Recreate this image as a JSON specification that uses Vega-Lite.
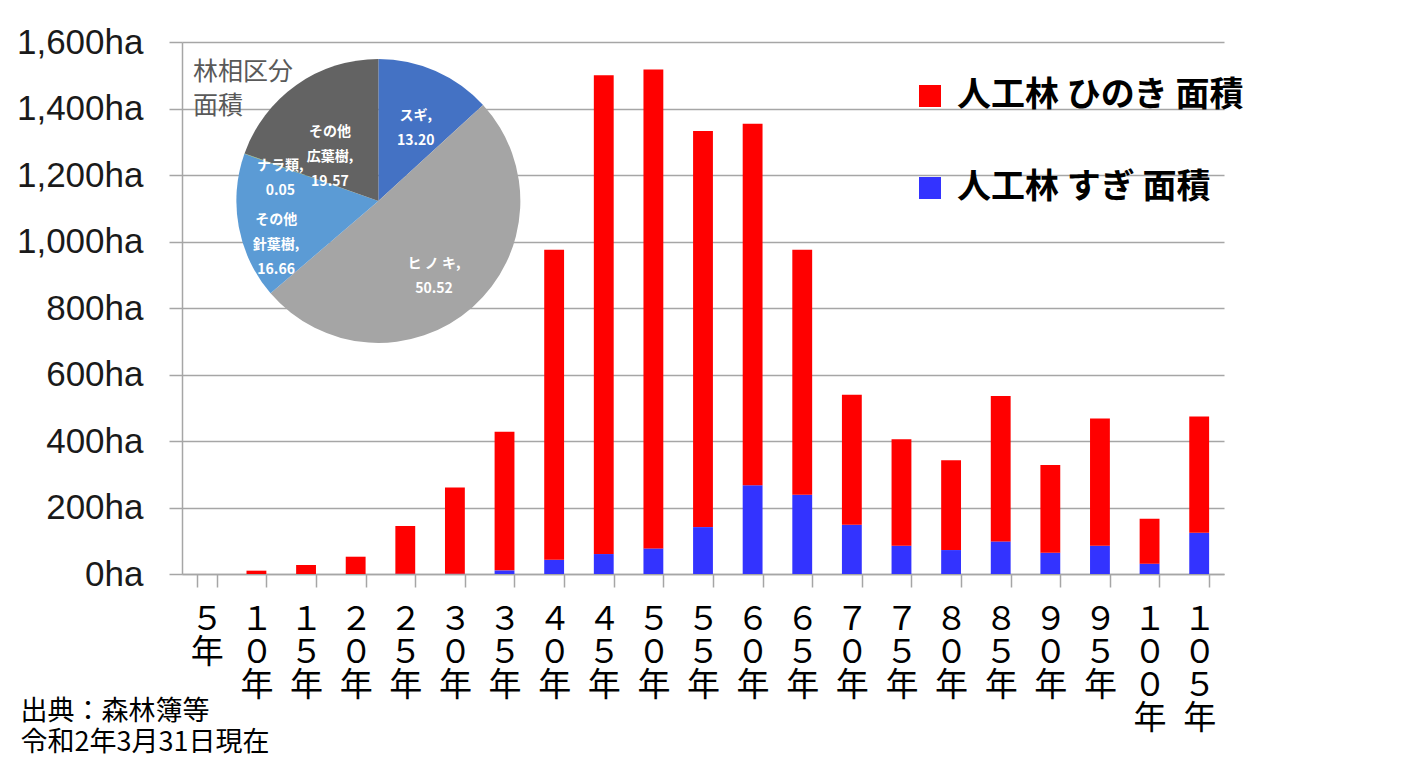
{
  "$schema": "https://vega.github.io/schema/vega-lite/v6.json",
  "width": 1042,
  "height": 532,
  "autosize": {"type": "none"},
  "padding": {"left": 182, "top": 42, "right": 181, "bottom": 195},
  "background": "white",
  "title": {
    "text": ["林相区分", "面積"],
    "orient": "top",
    "anchor": "start",
    "frame": "group",
    "baseline": "top",
    "offset": 0,
    "dx": 11,
    "dy": 94,
    "font": "Noto Sans CJK JP",
    "fontSize": 25,
    "fontWeight": "normal",
    "lineHeight": 34,
    "color": "#595959"
  },
  "datasets": {
    "bars": [
      {"age": "５年", "series": "人工林 すぎ 面積", "area": 0},
      {"age": "５年", "series": "人工林 ひのき 面積", "area": 0},
      {"age": "１０年", "series": "人工林 すぎ 面積", "area": 0},
      {"age": "１０年", "series": "人工林 ひのき 面積", "area": 10},
      {"age": "１５年", "series": "人工林 すぎ 面積", "area": 0},
      {"age": "１５年", "series": "人工林 ひのき 面積", "area": 27},
      {"age": "２０年", "series": "人工林 すぎ 面積", "area": 0},
      {"age": "２０年", "series": "人工林 ひのき 面積", "area": 52},
      {"age": "２５年", "series": "人工林 すぎ 面積", "area": 1},
      {"age": "２５年", "series": "人工林 ひのき 面積", "area": 143},
      {"age": "３０年", "series": "人工林 すぎ 面積", "area": 1},
      {"age": "３０年", "series": "人工林 ひのき 面積", "area": 259},
      {"age": "３５年", "series": "人工林 すぎ 面積", "area": 11},
      {"age": "３５年", "series": "人工林 ひのき 面積", "area": 417},
      {"age": "４０年", "series": "人工林 すぎ 面積", "area": 43},
      {"age": "４０年", "series": "人工林 ひのき 面積", "area": 932},
      {"age": "４５年", "series": "人工林 すぎ 面積", "area": 60},
      {"age": "４５年", "series": "人工林 ひのき 面積", "area": 1440},
      {"age": "５０年", "series": "人工林 すぎ 面積", "area": 77},
      {"age": "５０年", "series": "人工林 ひのき 面積", "area": 1440},
      {"age": "５５年", "series": "人工林 すぎ 面積", "area": 141},
      {"age": "５５年", "series": "人工林 ひのき 面積", "area": 1191},
      {"age": "６０年", "series": "人工林 すぎ 面積", "area": 267},
      {"age": "６０年", "series": "人工林 ひのき 面積", "area": 1087},
      {"age": "６５年", "series": "人工林 すぎ 面積", "area": 238},
      {"age": "６５年", "series": "人工林 ひのき 面積", "area": 737},
      {"age": "７０年", "series": "人工林 すぎ 面積", "area": 148},
      {"age": "７０年", "series": "人工林 ひのき 面積", "area": 391},
      {"age": "７５年", "series": "人工林 すぎ 面積", "area": 85},
      {"age": "７５年", "series": "人工林 ひのき 面積", "area": 320},
      {"age": "８０年", "series": "人工林 すぎ 面積", "area": 72},
      {"age": "８０年", "series": "人工林 ひのき 面積", "area": 270},
      {"age": "８５年", "series": "人工林 すぎ 面積", "area": 98},
      {"age": "８５年", "series": "人工林 ひのき 面積", "area": 437},
      {"age": "９０年", "series": "人工林 すぎ 面積", "area": 64},
      {"age": "９０年", "series": "人工林 ひのき 面積", "area": 264},
      {"age": "９５年", "series": "人工林 すぎ 面積", "area": 85},
      {"age": "９５年", "series": "人工林 ひのき 面積", "area": 383},
      {"age": "１００年", "series": "人工林 すぎ 面積", "area": 31},
      {"age": "１００年", "series": "人工林 ひのき 面積", "area": 135},
      {"age": "１０５年", "series": "人工林 すぎ 面積", "area": 124},
      {"age": "１０５年", "series": "人工林 ひのき 面積", "area": 350}
    ],
    "pie": [
      {"n": 1, "species": "スギ", "share": 13.20, "label": "スギ,\n13.20"},
      {"n": 2, "species": "ヒノキ", "share": 50.52, "label": "ヒ ノ キ,\n50.52"},
      {"n": 3, "species": "その他針葉樹", "share": 16.66, "label": "その他\n針葉樹,\n16.66"},
      {"n": 4, "species": "ナラ類", "share": 0.05, "label": "ナラ類,\n0.05"},
      {"n": 5, "species": "その他広葉樹", "share": 19.57, "label": "その他\n広葉樹,\n19.57"}
    ]
  },
  "layer": [
    {
      "data": {"name": "bars"},
      "mark": {"type": "bar"},
      "encoding": {
        "x": {
          "field": "age",
          "type": "nominal",
          "scale": {
            "domain": ["５年", "１０年", "１５年", "２０年", "２５年", "３０年", "３５年", "４０年", "４５年", "５０年", "５５年", "６０年", "６５年", "７０年", "７５年", "８０年", "８５年", "９０年", "９５年", "１００年", "１０５年"],
            "paddingInner": 0.6,
            "paddingOuter": 0.3
          },
          "axis": {
            "labelExpr": "split(datum.label, '')",
            "labelAngle": 0,
            "labelFont": "Noto Sans CJK JP",
            "labelFontSize": 33,
            "labelLineHeight": 33,
            "labelBaseline": "top",
            "labelAlign": "center",
            "labelPadding": 16,
            "labelColor": "#000000",
            "labelOverlap": false,
            "tickBand": "extent",
            "tickSize": 13,
            "grid": false,
            "title": ["出典：森林簿等", "令和2年3月31日現在"],
            "titleX": -162,
            "titleY": 124,
            "titleAlign": "left",
            "titleBaseline": "top",
            "titleAngle": 0,
            "titleFont": "Noto Sans CJK JP",
            "titleFontSize": 27,
            "titleFontWeight": "normal",
            "titleLineHeight": 31,
            "titleColor": "#000000"
          }
        },
        "y": {
          "field": "area",
          "type": "quantitative",
          "stack": "zero",
          "scale": {"domain": [0, 1600], "nice": false},
          "axis": {
            "values": [0, 200, 400, 600, 800, 1000, 1200, 1400, 1600],
            "labelExpr": "format(datum.value, ',') + 'ha'",
            "labelFont": "Liberation Sans",
            "labelFontSize": 35,
            "labelColor": "#1a1a1a",
            "labelPadding": 26,
            "tickSize": 13,
            "grid": true,
            "title": null
          }
        },
        "color": {
          "field": "series",
          "type": "nominal",
          "scale": {"domain": ["人工林 ひのき 面積", "人工林 すぎ 面積"], "range": ["#FF0000", "#3333FF"]},
          "legend": {
            "orient": "none",
            "legendX": 731,
            "legendY": 37,
            "title": null,
            "direction": "vertical",
            "symbolType": "square",
            "symbolSize": 484,
            "symbolStrokeWidth": 0,
            "symbolOpacity": 1,
            "labelFont": "Noto Sans CJK JP",
            "labelFontSize": 34,
            "labelFontWeight": "bold",
            "labelColor": "#000000",
            "labelOffset": 10,
            "labelLimit": 600,
            "rowPadding": 58
          }
        },
        "order": {"field": "series", "sort": "ascending"}
      }
    },
    {
      "data": {"name": "pie"},
      "mark": {"type": "arc", "outerRadius": 142, "xOffset": -17},
      "encoding": {
        "x": {"datum": "２５年", "bandPosition": 0},
        "y": {"datum": 1122},
        "theta": {"field": "share", "type": "quantitative", "stack": true},
        "fill": {
          "field": "species",
          "type": "nominal",
          "scale": {
            "domain": ["スギ", "ヒノキ", "その他針葉樹", "ナラ類", "その他広葉樹"],
            "range": ["#4472C4", "#A5A5A5", "#5B9BD5", "#70AD47", "#636363"]
          },
          "legend": null
        },
        "order": {"field": "n", "type": "quantitative"}
      }
    },
    {
      "data": {"name": "pie"},
      "mark": {
        "type": "text",
        "radius": 93,
        "xOffset": -17,
        "fill": "#FFFFFF",
        "font": "Noto Sans CJK JP",
        "fontSize": 14,
        "fontWeight": "bold",
        "lineHeight": 25,
        "lineBreak": "\n",
        "align": "center",
        "baseline": "middle"
      },
      "encoding": {
        "x": {"datum": "２５年", "bandPosition": 0},
        "y": {"datum": 1122},
        "theta": {"field": "share", "type": "quantitative", "stack": true},
        "text": {"condition": {"test": "datum.species === 'スギ'", "field": "label"}, "value": ""},
        "order": {"field": "n", "type": "quantitative"}
      }
    },
    {
      "data": {"name": "pie"},
      "mark": {
        "type": "text",
        "radius": 84,
        "xOffset": -17,
        "fill": "#FFFFFF",
        "font": "Noto Sans CJK JP",
        "fontSize": 14,
        "fontWeight": "bold",
        "lineHeight": 25,
        "lineBreak": "\n",
        "align": "center",
        "baseline": "middle"
      },
      "encoding": {
        "x": {"datum": "２５年", "bandPosition": 0},
        "y": {"datum": 1122},
        "theta": {"field": "share", "type": "quantitative", "stack": true},
        "text": {"condition": {"test": "datum.species === 'ヒノキ' || datum.species === 'その他広葉樹'", "field": "label"}, "value": ""},
        "order": {"field": "n", "type": "quantitative"}
      }
    },
    {
      "data": {"name": "pie"},
      "mark": {
        "type": "text",
        "radius": 104,
        "xOffset": -17,
        "fill": "#FFFFFF",
        "font": "Noto Sans CJK JP",
        "fontSize": 14,
        "fontWeight": "bold",
        "lineHeight": 25,
        "lineBreak": "\n",
        "align": "center",
        "baseline": "middle"
      },
      "encoding": {
        "x": {"datum": "２５年", "bandPosition": 0},
        "y": {"datum": 1122},
        "theta": {"field": "share", "type": "quantitative", "stack": true},
        "text": {"condition": {"test": "datum.species === 'その他針葉樹' || datum.species === 'ナラ類'", "field": "label"}, "value": ""},
        "order": {"field": "n", "type": "quantitative"}
      }
    }
  ],
  "config": {
    "view": {"stroke": null},
    "font": "Noto Sans CJK JP",
    "axis": {
      "gridColor": "#A6A6A6",
      "gridWidth": 1.5,
      "domainColor": "#A6A6A6",
      "domainWidth": 1.5,
      "tickColor": "#A6A6A6",
      "tickWidth": 1.5
    }
  }
}
